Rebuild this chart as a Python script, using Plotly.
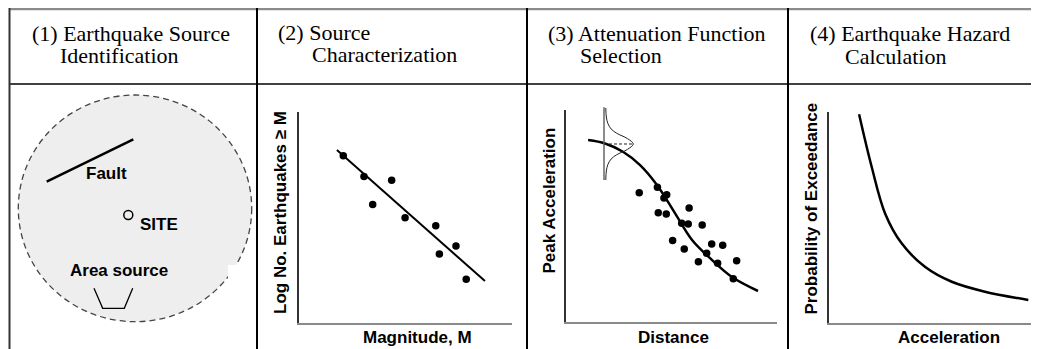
import plotly.graph_objects as go

# page offset of the plot inside the browser window (default body margin)
OX, OY = 8, 8
W, H = 1039 - OX, 349 - OY

# ---------------- data ----------------
header_line1 = ["(1) Earthquake Source", "(2) Source", "(3) Attenuation Function", "(4) Earthquake Hazard"]
header_line2 = ["Identification", "Characterization", "Selection", "Calculation"]

# Panel 1 schematic map (site-centred units)
fault_x = [-8.16, 0.5]
fault_y = [3.33, 7.57]
site_x = [0.0]
site_y = [0.0]
area_x = [-3.43, -2.56, -0.4, 0.44]
area_y = [-7.33, -9.33, -9.33, -7.33]
region_x = [-11.0, 12.34]
region_y = [-10.67, 12.0]

# Panel 2: recurrence
mag = [2.08, 3.05, 4.35, 3.46, 4.98, 6.42, 7.37, 6.59, 7.85]
lognum = [7.92, 6.93, 6.76, 5.60, 4.98, 4.60, 3.63, 3.25, 2.05]
fit_mag = [1.78, 8.73]
fit_lognum = [8.19, 1.97]

# Panel 3: attenuation
dist = [3.48, 4.34, 4.78, 4.65, 4.38, 4.76, 5.84, 5.49, 5.80, 6.46,
        5.06, 5.61, 6.91, 7.43, 6.67, 6.28, 7.19, 8.09, 7.93]
pga = [6.09, 6.35, 6.00, 5.84, 5.15, 5.09, 5.37, 4.65, 4.61, 4.57,
       3.83, 3.43, 3.67, 3.61, 3.23, 2.83, 2.76, 2.88, 2.03]
atten_dist = [1.06, 1.86, 2.71, 3.52, 4.32, 5.17, 5.98, 6.93, 7.87, 9.10]
atten_pga = [8.58, 8.42, 8.03, 7.40, 6.46, 5.13, 3.86, 2.91, 2.11, 1.45]
gauss_density = [0.06, 0.08, 0.13, 0.24, 0.43, 0.80, 1.00, 0.80, 0.43, 0.24, 0.13, 0.08, 0.06]
gauss_offset = [1.0, 0.75, 0.575, 0.42, 0.30, 0.15, 0.0, -0.15, -0.30, -0.42, -0.575, -0.75, -1.0]
gauss_axis_y = [-1.0, 1.02]

# Panel 4: hazard curve
hazard_acc = [1.42, 2.02, 2.66, 3.45, 4.56, 5.84, 7.42, 9.49]
hazard_prob = [9.88, 7.39, 5.18, 3.76, 2.65, 1.94, 1.47, 1.08]

# ---------------- helpers ----------------
def px(x):
    return (x - OX) / W

def py(y):
    return 1 - (y - OY) / H

SERIF = "Liberation Serif"
SANS = "Liberation Sans"
LBL = 17

fig = go.Figure()

# Panel 1
fig.add_trace(go.Scatter(x=fault_x, y=fault_y, mode="lines", line=dict(color="black", width=2.5),
                         xaxis="x", yaxis="y", hoverinfo="skip"))
fig.add_trace(go.Scatter(x=area_x, y=area_y, mode="lines", line=dict(color="black", width=1.3),
                         xaxis="x", yaxis="y", hoverinfo="skip"))
fig.add_trace(go.Scatter(x=site_x, y=site_y, mode="markers",
                         marker=dict(symbol="circle-open", size=9, color="black", line=dict(width=1.5)),
                         xaxis="x", yaxis="y", hoverinfo="skip"))

# Panel 2
fig.add_trace(go.Scatter(x=fit_mag, y=fit_lognum, mode="lines", line=dict(color="black", width=2),
                         xaxis="x2", yaxis="y2", hoverinfo="skip"))
fig.add_trace(go.Scatter(x=mag, y=lognum, mode="markers", marker=dict(color="black", size=7.5),
                         xaxis="x2", yaxis="y2", hoverinfo="skip"))

# Panel 3 gaussian (own small axes)
fig.add_trace(go.Scatter(x=[0, 0], y=gauss_axis_y, mode="lines", line=dict(color="#666666", width=1.5),
                         xaxis="x5", yaxis="y5", hoverinfo="skip"))
fig.add_trace(go.Scatter(x=gauss_density, y=gauss_offset, mode="lines", line=dict(color="#222222", width=1, shape="spline"),
                         xaxis="x5", yaxis="y5", hoverinfo="skip"))
fig.add_trace(go.Scatter(x=[0, max(gauss_density)], y=[0, 0], mode="lines",
                         line=dict(color="#222222", width=1, dash="3px,2px"),
                         xaxis="x5", yaxis="y5", hoverinfo="skip"))

# Panel 3
fig.add_trace(go.Scatter(x=atten_dist, y=atten_pga, mode="lines", line=dict(color="black", width=2.5, shape="spline"),
                         xaxis="x3", yaxis="y3", hoverinfo="skip"))
fig.add_trace(go.Scatter(x=dist, y=pga, mode="markers", marker=dict(color="black", size=7.5),
                         xaxis="x3", yaxis="y3", hoverinfo="skip"))

# Panel 4
fig.add_trace(go.Scatter(x=hazard_acc, y=hazard_prob, mode="lines", line=dict(color="black", width=2.5, shape="spline"),
                         xaxis="x4", yaxis="y4", hoverinfo="skip"))

def plot_axes(xd, yd, anchor_x, anchor_y):
    xa = dict(domain=xd, range=[0, 10], showline=True, linecolor="#8a8a8a", linewidth=2,
              showgrid=False, zeroline=False, showticklabels=False, ticks="", fixedrange=True, anchor=anchor_y)
    ya = dict(domain=yd, range=[0, 10], showline=True, linecolor="#333333", linewidth=1.8,
              showgrid=False, zeroline=False, showticklabels=False, ticks="", fixedrange=True, anchor=anchor_x)
    return xa, ya

x2, y2 = plot_axes([px(299), px(512)], [py(322.5), py(112)], "x2", "y2")
x3, y3 = plot_axes([px(565.7), px(777)], [py(321.7), py(110)], "x3", "y3")
x4, y4 = plot_axes([px(829.3), 1.0], [py(322.7), py(111.7)], "x4", "y4")

hidden = dict(visible=False, showgrid=False, zeroline=False, fixedrange=True)

annotations = []
def ann(text, x, y, size, family, angle=0, xanchor="center", bold=False, yanchor="middle"):
    annotations.append(dict(text=f"<b>{text}</b>" if bold else text, x=px(x), y=py(y), xref="paper", yref="paper",
                            showarrow=False, textangle=angle, xanchor=xanchor, yanchor=yanchor,
                            font=dict(family=family, size=size, color="black")))

# headers
hdr_pos = [((30, 33), (58, 56)), ((276, 32), (310, 54)), ((546, 33), (578, 56)), ((808, 33), (843, 57))]
for i, ((x1, y1), (x2_, y2_)) in enumerate(hdr_pos):
    ann(header_line1[i], x1, y1, 22, SERIF, xanchor="left")
    ann(header_line2[i], x2_, y2_, 22, SERIF, xanchor="left")

# axis labels
ann("Log No. Earthquakes \u2265 M", 280.5, 212.5, LBL, SANS, angle=-90, bold=True)
ann("Magnitude, M", 417, 337.5, LBL, SANS, bold=True)
ann("Peak Acceleration", 548.5, 201, LBL, SANS, angle=-90, bold=True)
ann("Distance", 673, 337.5, LBL, SANS, bold=True)
ann("Probability of Exceedance", 810.5, 209, LBL, SANS, angle=-90, bold=True)
ann("Acceleration", 949, 337.5, LBL, SANS, bold=True)

# panel 1 labels (data coords)
for text, x, y, xa in [("Fault", -2.23, 4.2, "center"), ("SITE", 0.95, -0.9, "left"), ("Area source", -0.93, -5.5, "center")]:
    annotations.append(dict(text=f"<b>{text}</b>", x=x, y=y, xref="x", yref="y", showarrow=False,
                            xanchor=xa, yanchor="middle", font=dict(family=SANS, size=LBL, color="black")))

shapes = [
    dict(type="circle", xref="x", yref="y", x0=region_x[0], x1=region_x[1], y0=region_y[0], y1=region_y[1],
         fillcolor="#eeeeee", line=dict(color="#444444", width=1.3, dash="6px,4px"), layer="below"),
    dict(type="rect", xref="x", yref="y", x0=9.97, x1=12.8, y0=-7.2, y1=-5.0,
         fillcolor="white", line=dict(width=0), layer="below"),
]
# table grid
shapes.append(dict(type="line", xref="paper", yref="paper", x0=px(9), x1=1, y0=py(9), y1=py(9),
                   line=dict(color="#8c8c8c", width=2.5)))
shapes.append(dict(type="line", xref="paper", yref="paper", x0=px(9), x1=1, y0=py(84), y1=py(84),
                   line=dict(color="black", width=1.5)))
shapes.append(dict(type="line", xref="paper", yref="paper", x0=px(9.5), x1=px(9.5), y0=py(8), y1=0,
                   line=dict(color="#333333", width=2)))
for xc in [257, 527, 788]:
    shapes.append(dict(type="line", xref="paper", yref="paper", x0=px(xc), x1=px(xc), y0=py(8), y1=0,
                       line=dict(color="black", width=2)))

fig.update_layout(
    width=W, height=H, margin=dict(l=0, r=0, t=0, b=0),
    paper_bgcolor="white", plot_bgcolor="rgba(0,0,0,0)", showlegend=False,
    xaxis=dict(domain=[px(9), px(257)], range=[-11.93, 12.87], anchor="y", **hidden),
    yaxis=dict(domain=[0, py(84)], range=[-13.4, 13.1], anchor="x", **hidden),
    xaxis2=x2, yaxis2=y2, xaxis3=x3, yaxis3=y3, xaxis4=x4, yaxis4=y4,
    xaxis5=dict(domain=[px(601.07), px(640)], range=[-0.1, 1.229], anchor="y5", **hidden),
    yaxis5=dict(domain=[py(182), py(104)], range=[-1.056, 1.111], anchor="x5", **hidden),
    annotations=annotations, shapes=shapes,
)

fig.write_html("out.html")
